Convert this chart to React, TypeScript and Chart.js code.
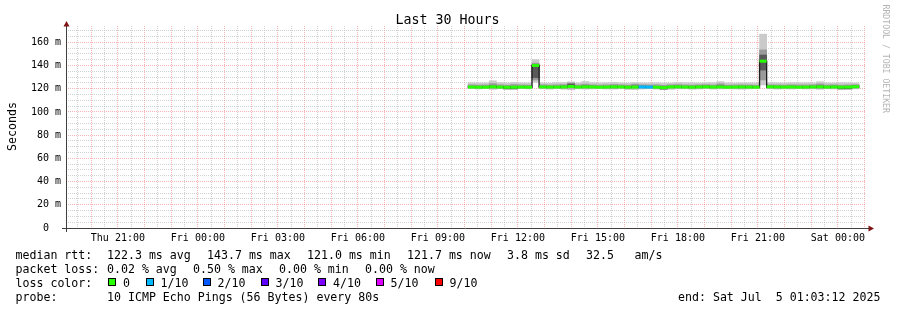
import React, { useEffect, useRef } from 'react';
import { Chart, registerables } from 'chart.js';

Chart.register(...registerables);

// ---------- text ----------
const TITLE = 'Last 30 Hours';
const Y_AXIS_TITLE = 'Seconds';
const WATERMARK = 'RRDTOOL / TOBI OETIKER';

// ---------- time axis (hours since Thu 00:00) ----------
const RANGE_START = 19.0533; // Thu 19:03:12
const RANGE_END = 49.0533; // Sat 01:03:12
const X_LABEL_HOURS = [21, 24, 27, 30, 33, 36, 39, 42, 45, 48];
const X_LABELS = ['Thu 21:00', 'Fri 00:00', 'Fri 03:00', 'Fri 06:00', 'Fri 09:00', 'Fri 12:00', 'Fri 15:00', 'Fri 18:00', 'Fri 21:00', 'Sat 00:00'];

// ---------- value axis (ms) ----------
const Y_MAX = 174;
const Y_LABEL_VALUES = [0, 20, 40, 60, 80, 100, 120, 140, 160];
const Y_LABELS = ['0  ', '20 m', '40 m', '60 m', '80 m', '100 m', '120 m', '140 m', '160 m'];

// ---------- samples ----------
const FIRST_SAMPLE_HOUR = 34.128; // Fri 10:07:40
const SAMPLE_STEP_HOURS = 16 / 60; // 960 s consolidation

const medianMs = [
  121.4, 121.3, 121.3, 121.6, 121.4, 121.2, 121.3, 121.4, 121.3, 140.0,
  121.5, 121.4, 121.4, 121.5, 121.9, 121.4, 121.6, 121.5, 121.3, 121.4,
  121.6, 121.5, 121.3, 121.4, 121.5, 121.4, 121.3, 121.0, 121.5, 121.6,
  121.4, 121.3, 121.5, 121.6, 121.4, 121.5, 121.3, 121.4, 121.5, 121.4,
  121.3, 143.7, 121.6, 121.5, 121.4, 121.5, 121.3, 121.4, 121.5, 121.6,
  121.4, 121.5, 121.3, 121.4, 121.7,
];
const smokeOuterLo = [
  120.0, 119.7, 120.1, 119.4, 119.9, 119.3, 119.2, 120.0, 119.8, 125.5,
  119.9, 119.6, 120.0, 119.5, 119.0, 119.9, 119.6, 119.8, 120.1, 119.7,
  119.6, 119.9, 119.3, 119.2, 119.7, 120.0, 119.6, 119.1, 119.4, 119.8,
  119.9, 119.5, 119.7, 120.0, 119.6, 119.8, 119.9, 119.7, 119.5, 119.8,
  120.0, 123.2, 119.9, 119.6, 119.8, 119.7, 120.0, 119.7, 119.8, 119.4,
  119.9, 119.7, 119.1, 119.2, 119.8,
];
const smokeOuterHi = [
  125.1, 124.9, 125.0, 126.8, 125.2, 124.9, 125.4, 125.0, 124.9, 145.0,
  124.9, 124.8, 125.1, 125.3, 125.9, 125.0, 126.2, 125.2, 124.9, 125.1,
  125.5, 125.0, 124.9, 125.2, 125.0, 124.9, 125.1, 124.8, 124.9, 125.3,
  125.1, 125.0, 124.9, 125.2, 125.1, 126.1, 125.0, 124.9, 125.1, 125.0,
  124.9, 167.0, 125.1, 125.0, 124.9, 125.2, 125.0, 125.1, 124.9, 126.0,
  125.0, 124.9, 125.1, 125.0, 124.9,
];
const smokeMidLo = [
  120.5, 120.4, 120.5, 120.3, 120.4, 119.7, 119.8, 120.5, 120.4, 127.5,
  120.5, 120.4, 120.5, 120.3, 120.4, 120.5, 120.4, 120.5, 120.5, 120.4,
  120.3, 120.5, 120.2, 120.3, 120.5, 120.4, 120.3, 119.5, 120.4, 120.5,
  120.5, 120.3, 120.4, 120.5, 120.4, 120.5, 120.4, 120.4, 120.3, 120.5,
  120.4, 127.5, 120.5, 120.4, 120.5, 120.4, 120.5, 120.4, 120.5, 120.3,
  120.4, 120.5, 119.7, 119.8, 120.5,
];
const smokeMidHi = [
  123.3, 123.1, 123.2, 124.4, 123.3, 123.0, 123.6, 123.2, 123.1, 142.0,
  123.3, 123.1, 123.3, 123.5, 124.9, 123.2, 123.9, 123.3, 123.1, 123.3,
  123.6, 123.3, 123.1, 123.9, 123.3, 123.2, 123.3, 122.9, 123.3, 123.5,
  123.2, 123.1, 123.3, 123.5, 123.2, 124.2, 123.1, 123.2, 123.3, 123.2,
  123.0, 153.4, 123.3, 123.2, 123.1, 123.3, 123.2, 123.2, 123.3, 124.1,
  123.2, 123.3, 123.0, 123.2, 123.4,
];
const smokeInnerLo = [
  121.0, 120.9, 120.9, 121.0, 121.0, 120.1, 120.2, 121.0, 120.9, 129.5,
  121.0, 121.0, 121.0, 120.9, 121.0, 121.0, 121.0, 121.0, 121.0, 121.0,
  120.9, 121.0, 120.8, 120.9, 121.0, 121.0, 120.9, 119.8, 121.0, 121.0,
  121.0, 120.9, 121.0, 121.0, 121.0, 121.0, 121.0, 121.0, 120.9, 121.0,
  121.0, 136.0, 121.0, 121.0, 121.0, 121.0, 121.0, 121.0, 121.0, 120.9,
  121.0, 121.0, 120.0, 120.1, 121.0,
];
const smokeInnerHi = [
  122.0, 121.9, 121.9, 122.4, 122.0, 121.8, 121.9, 122.0, 121.9, 140.5,
  122.1, 122.0, 122.0, 122.2, 124.0, 122.0, 122.4, 122.1, 121.9, 122.0,
  122.2, 122.1, 121.9, 122.3, 122.1, 122.0, 121.9, 121.6, 122.1, 122.2,
  122.0, 121.9, 122.1, 122.2, 122.0, 122.5, 121.9, 122.0, 122.1, 122.0,
  121.9, 149.0, 122.2, 122.1, 122.0, 122.1, 121.9, 122.0, 122.1, 122.4,
  122.0, 122.1, 121.9, 122.0, 122.3,
];
const lossTenths = [
  0, 0, 0, 0, 0, 0, 0, 0, 0, 0,
  0, 0, 0, 0, 0, 0, 0, 0, 0, 0,
  0, 0, 0, 0, 1, 1, 0, 0, 0, 0,
  0, 0, 0, 0, 0, 0, 0, 0, 0, 0,
  0, 0, 0, 0, 0, 0, 0, 0, 0, 0,
  0, 0, 0, 0, 0,
];

// ---------- legend ----------
const LOSS_KEYS = [0, 1, 2, 3, 4, 5, 9];
const LOSS_LABELS = ['0', '1/10', '2/10', '3/10', '4/10', '5/10', '9/10'];
const LOSS_COLORS: Record<number, string> = {
  0: '#26ff00', 1: '#00b8ff', 2: '#0059ff', 3: '#5e00ff', 4: '#7e00ff', 5: '#dd00ff', 9: '#ff0000',
};
const RTT_STATS = ['122.3 ms avg', '143.7 ms max', '121.0 ms min', '121.7 ms now', '3.8 ms sd', '32.5', 'am/s'];
const LOSS_STATS = ['0.02 % avg', '0.50 % max', '0.00 % min', '0.00 % now'];
const PROBE_TEXT = '10 ICMP Echo Pings (56 Bytes) every 80s';
const END_TEXT = 'end: Sat Jul  5 01:03:12 2025';

// ---------- styles ----------
const MONO = '"DejaVu Sans Mono", monospace';
const RED_GRID = 'rgba(236, 120, 120, 0.55)';
const GRAY_GRID = 'rgba(165, 165, 165, 0.5)';

const colStart = (i: number) => FIRST_SAMPLE_HOUR + i * SAMPLE_STEP_HOURS;
const colMid = (i: number) => colStart(i) + SAMPLE_STEP_HOURS / 2;

function smokeBars(lo: number[], hi: number[]) {
  return lo.map((v, i) => ({ x: colMid(i), y: [v, hi[i]] }));
}

const decorPlugin = {
  id: 'decor',
  afterDraw(chart: any) {
    const ctx: CanvasRenderingContext2D = chart.ctx;
    const { left, right, top, bottom } = chart.chartArea;
    ctx.save();

    // axes
    ctx.strokeStyle = '#404040';
    ctx.lineWidth = 1;
    ctx.beginPath();
    ctx.moveTo(left + 0.5, bottom + 4);
    ctx.lineTo(left + 0.5, top);
    ctx.moveTo(left - 4, bottom + 0.5);
    ctx.lineTo(right + 3, bottom + 0.5);
    ctx.stroke();
    ctx.fillStyle = '#7f1414';
    ctx.beginPath();
    ctx.moveTo(left + 0.5, top - 5);
    ctx.lineTo(left + 3.5, top + 0.5);
    ctx.lineTo(left - 2.5, top + 0.5);
    ctx.closePath();
    ctx.fill();
    ctx.beginPath();
    ctx.moveTo(right + 8, bottom + 0.5);
    ctx.lineTo(right + 2.5, bottom + 3.5);
    ctx.lineTo(right + 2.5, bottom - 2.5);
    ctx.closePath();
    ctx.fill();

    // title
    ctx.fillStyle = '#000';
    ctx.font = `13.3px ${MONO}`;
    ctx.textAlign = 'center';
    ctx.textBaseline = 'alphabetic';
    ctx.fillText(TITLE, 447.5, 24);

    // y axis title
    ctx.font = `11.6px ${MONO}`;
    ctx.save();
    ctx.translate(15.5, 126.5);
    ctx.rotate(-Math.PI / 2);
    ctx.textAlign = 'center';
    ctx.fillText(Y_AXIS_TITLE, 0, 0);
    ctx.restore();

    // watermark
    ctx.save();
    ctx.fillStyle = '#b4b4b4';
    ctx.font = `8.2px ${MONO}`;
    ctx.translate(883, 4.5);
    ctx.rotate(Math.PI / 2);
    ctx.textAlign = 'left';
    ctx.fillText(WATERMARK, 0, 0);
    ctx.restore();

    // legend
    ctx.fillStyle = '#000';
    ctx.font = `11.6px ${MONO}`;
    ctx.textAlign = 'left';
    const rows = [258.5, 272.5, 286.5, 300.5];
    ctx.fillText('median rtt:', 15.5, rows[0]);
    const rttX = [107, 207, 307, 407, 507, 586, 634.5];
    RTT_STATS.forEach((t, i) => ctx.fillText(t, rttX[i], rows[0]));
    ctx.fillText('packet loss:', 15.5, rows[1]);
    const lossX = [107, 193, 279, 365];
    LOSS_STATS.forEach((t, i) => ctx.fillText(t, lossX[i], rows[1]));
    ctx.fillText('loss color:', 15.5, rows[2]);
    const boxX = [108, 146, 203, 261, 318, 376, 435];
    const lblX = [123, 160.5, 217.5, 275.5, 333, 390.5, 449.5];
    LOSS_KEYS.forEach((k, i) => {
      ctx.fillStyle = LOSS_COLORS[k];
      ctx.fillRect(boxX[i], 278, 8, 8);
      ctx.strokeStyle = '#000';
      ctx.strokeRect(boxX[i] + 0.5, 278.5, 7, 7);
      ctx.fillStyle = '#000';
      ctx.fillText(LOSS_LABELS[i], lblX[i], rows[2]);
    });
    ctx.fillText('probe:', 15.5, rows[3]);
    ctx.fillText(PROBE_TEXT, 107, rows[3]);
    ctx.fillText(END_TEXT, 678, rows[3]);

    ctx.restore();
  },
};

export default function App() {
  const ref = useRef<HTMLCanvasElement>(null);

  useEffect(() => {
    document.body.style.margin = '0';
    const canvas = ref.current!;

    const greenPts: any[] = [];
    medianMs.forEach((m, i) => {
      greenPts.push({ x: colStart(i), y: m });
      greenPts.push({ x: colStart(i + 1), y: m });
      greenPts.push({ x: colStart(i + 1), y: null });
    });
    const blackPts: any[] = medianMs.map((m, i) => ({ x: colStart(i), y: m }));
    blackPts.push({ x: colStart(medianMs.length), y: medianMs[medianMs.length - 1] });

    const xTicks: number[] = [];
    for (let h = 39; h <= 98; h++) xTicks.push(h / 2);
    const yTicks: number[] = [];
    for (let v = 0; v <= 170; v += 5) yTicks.push(v);

    const barCommon = {
      type: 'bar' as const,
      grouped: false,
      barPercentage: 1,
      categoryPercentage: 1,
      borderWidth: 0,
    };

    const chart = new Chart(canvas, {
      type: 'bar',
      data: {
        datasets: [
          {
            type: 'line',
            data: greenPts,
            borderColor: LOSS_COLORS[0],
            borderWidth: 3,
            borderCapStyle: 'butt',
            pointRadius: 0,
            spanGaps: false,
            fill: false,
            order: 0,
            segment: {
              borderColor: (c: any) => LOSS_COLORS[lossTenths[Math.floor(c.p0DataIndex / 3)]],
            },
          } as any,
          {
            type: 'line',
            data: blackPts,
            borderColor: '#1e1e1e',
            borderWidth: 1.3,
            stepped: true,
            pointRadius: 0,
            fill: false,
            order: 1,
          } as any,
          { ...barCommon, data: smokeBars(smokeInnerLo, smokeInnerHi), backgroundColor: '#5a5a5a', order: 2 } as any,
          { ...barCommon, data: smokeBars(smokeMidLo, smokeMidHi), backgroundColor: '#9a9a9a', order: 3 } as any,
          { ...barCommon, data: smokeBars(smokeOuterLo, smokeOuterHi), backgroundColor: '#cacaca', order: 4 } as any,
        ],
      },
      options: {
        animation: false,
        responsive: false,
        devicePixelRatio: 1,
        events: [],
        layout: { padding: { left: 0, right: 31, top: 26, bottom: 0 } },
        plugins: { legend: { display: false }, tooltip: { enabled: false }, title: { display: false } },
        scales: {
          x: {
            type: 'linear',
            min: RANGE_START,
            max: RANGE_END,
            offset: false,
            afterFit: (s: any) => { s.height = 82; },
            afterBuildTicks: (s: any) => { s.ticks = xTicks.map((v) => ({ value: v })); },
            ticks: {
              autoSkip: false,
              maxRotation: 0,
              minRotation: 0,
              padding: 4,
              color: '#000',
              font: { family: MONO, size: 10 },
              callback: (v: any) => {
                const i = X_LABEL_HOURS.indexOf(Number(v));
                return i >= 0 ? X_LABELS[i] : '';
              },
            },
            grid: {
              offset: false,
              drawTicks: false,
              lineWidth: 1,
              color: (c: any) => (c.tick && Number.isInteger(c.tick.value) ? RED_GRID : GRAY_GRID),
            },
            border: { display: false, dash: [1, 1] },
          },
          y: {
            type: 'linear',
            min: 0,
            max: Y_MAX,
            afterFit: (s: any) => { s.width = 66; },
            afterBuildTicks: (s: any) => { s.ticks = yTicks.map((v) => ({ value: v })); },
            ticks: {
              autoSkip: false,
              padding: 5,
              color: '#000',
              font: { family: MONO, size: 10 },
              callback: (v: any) => {
                const i = Y_LABEL_VALUES.indexOf(Number(v));
                return i >= 0 ? Y_LABELS[i] : '';
              },
            },
            grid: {
              drawTicks: false,
              lineWidth: 1,
              color: (c: any) => (c.tick && c.tick.value % 20 === 0 ? RED_GRID : GRAY_GRID),
            },
            border: { display: false, dash: [1, 1] },
          },
        },
      } as any,
      plugins: [decorPlugin],
    });

    return () => chart.destroy();
  }, []);

  return (
    <div style={{ width: 897, height: 310, background: '#fff' }}>
      <canvas ref={ref} width={897} height={310} style={{ display: 'block', width: 897, height: 310 }} />
    </div>
  );
}
